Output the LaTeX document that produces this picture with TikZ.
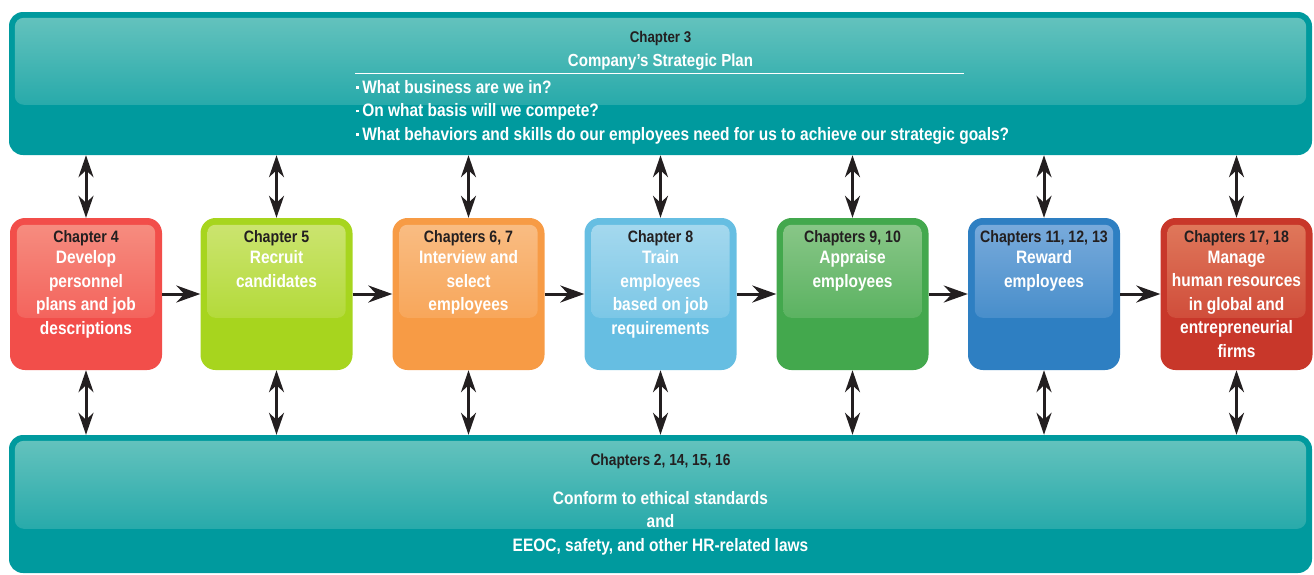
\documentclass[tikz,border=0pt]{standalone}
\usepackage{fontspec}
\setmainfont{Liberation Sans}[FakeStretch=0.86]
\usetikzlibrary{arrows.meta}
\definecolor{tealO}{HTML}{009A9E}
\definecolor{tealL}{HTML}{63C2BD}
\definecolor{txtdark}{HTML}{231F20}
\definecolor{redO}{HTML}{F24E4A}\definecolor{redL}{HTML}{F68C7F}
\definecolor{limeO}{HTML}{A7D51E}\definecolor{limeL}{HTML}{CBE46F}
\definecolor{orgO}{HTML}{F79B45}\definecolor{orgL}{HTML}{F9BC82}
\definecolor{skyO}{HTML}{66BEE2}\definecolor{skyL}{HTML}{A4D8EE}
\definecolor{grnO}{HTML}{43A84D}\definecolor{grnL}{HTML}{88C687}
\definecolor{bluO}{HTML}{2E7FC2}\definecolor{bluL}{HTML}{78AADB}
\definecolor{dredO}{HTML}{C8372A}\definecolor{dredL}{HTML}{DF775A}
\tikzset{
  bigbox/.style={rectangle, rounded corners=14pt, inner sep=0pt, draw=none, fill=tealO, minimum width=1303pt},
  hrbox/.style={rectangle, rounded corners=15pt, inner sep=0pt, draw=none, minimum width=152pt, minimum height=152pt},
  chaplabel/.style={anchor=north, inner sep=0pt, text=txtdark, font=\fontsize{16.5}{19}\selectfont\bfseries},
  bodytext/.style={anchor=north, inner sep=0pt, align=center, text=white, font=\fontsize{18}{23.6}\selectfont\bfseries},
  dblarrow/.style={line width=3pt, draw=txtdark, {Stealth[length=22pt,width=15pt,inset=7pt]}-{Stealth[length=22pt,width=15pt,inset=7pt]}},
  onearrow/.style={line width=3pt, draw=txtdark, -{Stealth[length=24pt,width=17pt,inset=8pt]}},
}
\newcommand{\sqbul}{\rule[4.5pt]{2.6pt}{2.6pt}\hspace{3.5pt}}
\newcommand{\hrstep}[6]{%
  \node[hrbox, fill=#3] (#1) at (#2,294) {};
  \shade[rounded corners=8pt, top color=#4, middle color=#4, bottom color=#4!35!#3]
    ([xshift=7pt,yshift=-7pt]#1.north west) rectangle ([xshift=-7pt,yshift=-100pt]#1.north east);
  \node[chaplabel] (#1c) at (#2,230) {#5};
  \node[bodytext] (#1t) at (#2,250.5) {#6};
}
\begin{document}
\begin{tikzpicture}[x=1pt,y=-1pt]
\useasboundingbox (0,0) rectangle (1314,574);
% top box
\node[bigbox, minimum height=143pt] (top) at (660.5,83.5) {};
\shade[rounded corners=9pt, top color=tealL, middle color=tealL, bottom color=tealL!40!tealO]
  ([xshift=6pt,yshift=-6pt]top.north west) rectangle ([xshift=-6pt,yshift=-93pt]top.north east);
\node[chaplabel, font=\fontsize{15.5}{18}\selectfont\bfseries] (topc) at (660.5,31) {Chapter 3};
\node[bodytext, font=\fontsize{17.5}{20}\selectfont\bfseries] (topt) at (660.5,54) {Company’s Strategic Plan};
\coordinate (rulel) at (355,73.5);
\coordinate (ruler) at (964,73.5);
\draw[white, line width=1.4pt] (rulel) -- (ruler);
\node[bodytext, anchor=north west, align=left] (topq) at (356,80)
  {\sqbul What business are we in?\\
   \sqbul On what basis will we compete?\\
   \sqbul What behaviors and skills do our employees need for us to achieve our strategic goals?};
% bottom box
\node[bigbox, minimum height=138pt] (bot) at (660.5,504) {};
\shade[rounded corners=9pt, top color=tealL, middle color=tealL, bottom color=tealL!40!tealO]
  ([xshift=6pt,yshift=-6pt]bot.north west) rectangle ([xshift=-6pt,yshift=-94pt]bot.north east);
\node[chaplabel, font=\fontsize{16}{18}\selectfont\bfseries] (botc) at (660.5,453.5) {Chapters 2, 14, 15, 16};
\node[bodytext] (bott) at (660.5,491) {Conform to ethical standards\\and\\EEOC, safety, and other HR-related laws};
% step boxes
\hrstep{b1}{86}{redO}{redL}{Chapter 4}{Develop\\personnel\\plans and job\\descriptions}
\hrstep{b2}{276.5}{limeO}{limeL}{Chapter 5}{Recruit\\candidates}
\hrstep{b3}{468.5}{orgO}{orgL}{Chapters 6, 7}{Interview and\\select\\employees}
\hrstep{b4}{660.5}{skyO}{skyL}{Chapter 8}{Train\\employees\\based on job\\requirements}
\hrstep{b5}{852.5}{grnO}{grnL}{Chapters 9, 10}{Appraise\\employees}
\hrstep{b6}{1044}{bluO}{bluL}{Chapters 11, 12, 13}{Reward\\employees}
\hrstep{b7}{1236.5}{dredO}{dredL}{Chapters 17, 18}{Manage\\human resources\\in global and\\entrepreneurial\\firms}
% connectors
\foreach \b in {b1,b2,b3,b4,b5,b6,b7}{
  \draw[dblarrow] (\b.north |- top.south) -- (\b.north);
  \draw[dblarrow] (\b.south) -- (\b.south |- bot.north);
}
\draw[onearrow] (b1.east) -- (b2.west);
\draw[onearrow] (b2.east) -- (b3.west);
\draw[onearrow] (b3.east) -- (b4.west);
\draw[onearrow] (b4.east) -- (b5.west);
\draw[onearrow] (b5.east) -- (b6.west);
\draw[onearrow] (b6.east) -- (b7.west);
\end{tikzpicture}
\end{document}
